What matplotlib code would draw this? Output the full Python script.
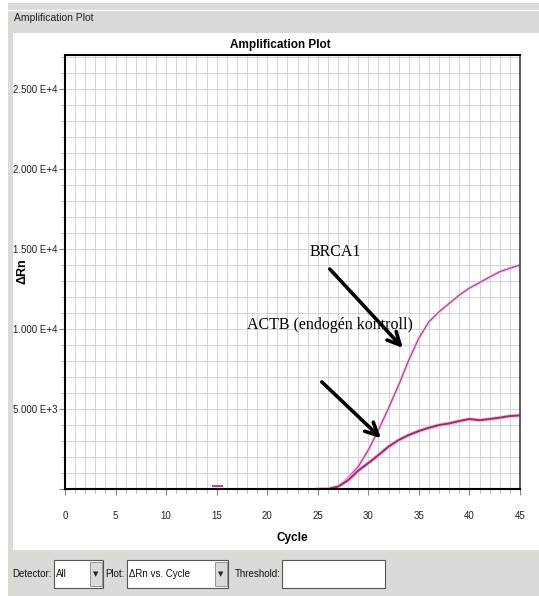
import numpy as np
import matplotlib
matplotlib.use("Agg")
import matplotlib.pyplot as plt
from matplotlib.patches import Rectangle
from matplotlib.ticker import MultipleLocator, FuncFormatter

# data
cycles = [25, 26, 27, 28, 29, 30, 31, 32, 33, 34, 35, 36, 37, 38, 39, 40, 41, 42, 43, 44, 45]
brca1 = [0, 30, 120, 700, 1400, 2440, 3690, 5060, 6500, 8060, 9440, 10460, 11080,
         11600, 12125, 12560, 12900, 13250, 13580, 13800, 14000]
actb = [0, 0, 150, 550, 1150, 1620, 2120, 2650, 3060, 3375, 3625, 3830, 4000,
        4100, 4250, 4375, 4300, 4375, 4460, 4560, 4600]
blip_cycles = [14.6, 15.5]
blip_vals = [180, 180]

W, H = 539, 596
narrow = ['Liberation Sans', 'DejaVu Sans']
serif = ['Liberation Serif', 'DejaVu Serif']
gray = '#dcdad6'

def px(x, y):
    return x / W, 1 - y / H

fig = plt.figure(figsize=(W / 100, H / 100), dpi=100)
fig.patch.set_facecolor('white')

# window frame (behind the axes)
def frect(x0, y0, x1, y1, z=-5, **kw):
    fx, fy = px(x0, y1)
    r = Rectangle((fx, fy), (x1 - x0) / W, (y1 - y0) / H, transform=fig.transFigure,
                  zorder=z, **kw)
    fig.add_artist(r)

frect(8, 3, 539, 596, facecolor=gray, edgecolor='none', z=-10)
frect(13, 33, 539, 550, facecolor='white', edgecolor='none', z=-9)
fig.add_artist(plt.Line2D([8 / W, 1], [1 - 10 / H] * 2, transform=fig.transFigure,
                          color='white', lw=1, zorder=-8))
fig.text(*px(14, 18), 'Amplification Plot', family=narrow, fontsize=7.5, color='#222222', va='center')

# controls at the bottom
def combo(x0, x1, label, btn=True):
    frect(x0, 560, x1, 588, facecolor='white', edgecolor='#555555', lw=0.8, z=2)
    fig.text(*px(x0 + 2, 574), label, family=narrow, fontsize=7, va='center', color='#111111')
    if btn:
        frect(x1 - 13, 562, x1 - 1, 586, facecolor=gray, edgecolor='#888888', lw=0.6, z=3)
        fig.text(*px(x1 - 7, 574), '\u25bc', fontsize=5, ha='center', va='center', color='#222222')

fig.text(*px(52, 574), 'Detector:', family=narrow, fontsize=7, va='center', ha='right', color='#111111')
combo(54, 103, 'All')
fig.text(*px(125, 574), 'Plot:', family=narrow, fontsize=7, va='center', ha='right', color='#111111')
combo(127, 228, '\u0394Rn vs. Cycle')
fig.text(*px(281, 574), 'Threshold:', family=narrow, fontsize=7, va='center', ha='right', color='#111111')
combo(282, 385, '', btn=False)

# the plot
ax = fig.add_axes([65 / W, 1 - 489 / H, 455 / W, 434 / H])
ax.set_xlim(0, 45)
ax.set_ylim(0, 27125)
ax.xaxis.set_major_locator(MultipleLocator(5))
ax.xaxis.set_minor_locator(MultipleLocator(1))
ax.yaxis.set_major_locator(MultipleLocator(5000))
ax.yaxis.set_minor_locator(MultipleLocator(1000))
ax.grid(which='both', color='#cfcfcf', lw=0.6)
ax.set_axisbelow(True)

def yfmt(v, pos):
    if v <= 0:
        return ''
    e = int(np.floor(np.log10(v)))
    return '%.3f E+%d' % (v / 10 ** e, e)

ax.yaxis.set_major_formatter(FuncFormatter(yfmt))
ax.tick_params(which='major', length=4, color='#888888', labelsize=7, labelcolor='#222222')
ax.tick_params(which='minor', length=3, color='#aaaaaa')
for lab in ax.get_xticklabels() + ax.get_yticklabels():
    lab.set_family(narrow)
ax.tick_params(axis='x', pad=12)
ax.tick_params(axis='y', pad=1.5)
for s in ax.spines.values():
    s.set_linewidth(1.5)
    s.set_color('black')
ax.spines['right'].set_color('#444444')
ax.spines['right'].set_linewidth(1.2)

ax.plot(cycles, brca1, color='#f6cdec', lw=2.2, solid_joinstyle='round')
ax.plot(cycles, brca1, color='#c03c92', lw=0.9)
ax.plot(cycles, actb, color='#f3bde4', lw=2.8, solid_joinstyle='round')
ax.plot(cycles, actb, color='#aa2468', lw=1.4)
ax.plot(blip_cycles, blip_vals, color='#c8389a', lw=1.4)

fig.text(*px(280, 45), 'Amplification Plot', family=narrow,
         fontsize=8.5, fontweight='bold', ha='center', va='center')
ax.set_xlabel('Cycle', family=narrow, fontsize=8.5, fontweight='bold', labelpad=8)
fig.text(*px(22, 271), '\u0394Rn', family=narrow, fontsize=9, fontweight='bold',
         rotation=90, ha='center', va='center')

arrow = dict(arrowstyle='->, head_length=0.9, head_width=0.45', color='black', lw=2.6)
ax.annotate('', xy=(33.6, 8690), xytext=(26.0, 13875), arrowprops=arrow)
ax.annotate('', xy=(31.45, 3060), xytext=(25.2, 6810), arrowprops=arrow)
ax.text(26.7, 14810, 'BRCA1', family=serif, fontsize=11.5, ha='center', va='center')
ax.text(26.2, 10250, 'ACTB (endogén kontroll)', family=serif, fontsize=11.5, ha='center', va='center')

fig.savefig('out.png', dpi=100)
